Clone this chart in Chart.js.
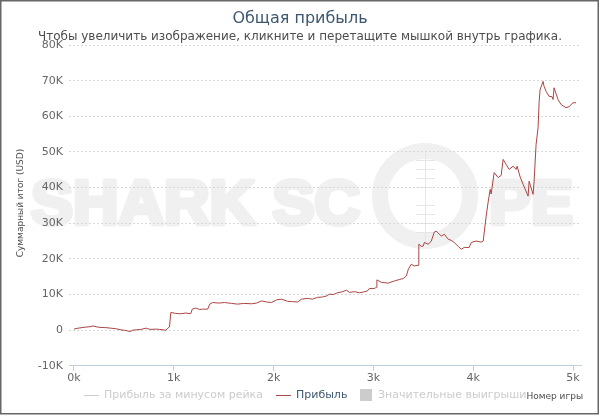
<!DOCTYPE html>
<html lang="ru">
<head>
  <meta charset="UTF-8">
  <title>Общая прибыль</title>
  <script src="https://cdn.jsdelivr.net/npm/chart.js"></script>
  <style>
    body { margin: 0; background: #fff; }
    canvas { display: block; }
  </style>
</head>
<body>
  <canvas id="grafico" width="600" height="417"></canvas>

  <script>
    // номер игры
    const games = [
      0, 30, 100, 170, 190, 230, 270, 320, 370, 420, 470, 520, 560, 590, 630, 670, 720, 750, 770, 820, 860, 920, 940, 957,
      970, 1020, 1070, 1120, 1170, 1185, 1220, 1260, 1290, 1340, 1360, 1390, 1450, 1510, 1580, 1640, 1700, 1780, 1830,
      1880, 1930, 1980, 2030, 2080, 2140, 2190, 2240, 2280, 2340, 2390, 2440, 2490, 2530, 2560, 2600, 2640, 2680, 2730,
      2760, 2810, 2860, 2900, 2940, 2960, 3010, 3030, 3035, 3080, 3150, 3210, 3260, 3300, 3330, 3350, 3380, 3410, 3450,
      3455, 3480, 3500, 3510, 3550, 3580, 3610, 3630, 3650, 3680, 3710, 3750, 3780, 3810, 3850, 3880, 3910, 3960, 3980,
      4030, 4080, 4100, 4130, 4150, 4170, 4180, 4210, 4250, 4280, 4300, 4330, 4360, 4400, 4430, 4440, 4470, 4500, 4550,
      4560, 4600, 4610, 4630, 4650, 4660, 4670, 4700, 4710, 4730, 4760, 4790, 4800, 4810, 4850, 4880, 4930, 4960, 5000, 5030
    ];
    // суммарный итог, USD
    const profit = [
      300, 500, 800, 1000, 1200, 900, 750, 700, 560, 400, 100, -100, -400, 0, 100, 200, 560, 300, 200, 300, 200, 0, 560, 900,
      4950, 4700, 4600, 4800, 4600, 5900, 6200, 5800, 5900, 5900, 7300, 7750, 7600, 7750, 7500, 7300, 7500, 7400, 7600,
      8200, 7900, 7750, 8500, 8700, 8100, 8000, 7900, 8700, 8900, 8700, 9200, 9300, 9600, 10100, 10000, 10500, 10700, 11200,
      10600, 10800, 10500, 10700, 11000, 11700, 11700, 12000, 14100, 13400, 13200, 13800, 14200, 14500, 15200, 17100, 18500, 18000, 18200,
      24100, 23500, 23600, 24600, 24100, 25000, 27500, 27800, 27200, 26400, 26900, 25500, 25200, 24600, 23500, 22700, 23200, 23200, 24600,
      25000, 24700, 25000, 32000, 36000, 39500, 38200, 44200, 42800, 43400, 47900, 46500, 45100, 46000, 45100, 46000, 43000, 40900, 37600,
      41800, 38100, 41700, 52100, 56800, 63800, 67500, 69800, 68400, 67000, 65600, 65500, 64700, 68000, 64700, 63300, 62400, 62700, 63800, 63800
    ];
    const xTicks = [0, 1000, 2000, 3000, 4000, 5000];
    const yTicks = [-10000, 0, 10000, 20000, 30000, 40000, 50000, 60000, 70000, 80000];

    const FONT = '"DejaVu Sans", Verdana, sans-serif';

    // заголовки, водяной знак, легенда, рамка
    const decor = {
      id: 'decor',
      beforeDraw(chart) {
        const ctx = chart.ctx;
        ctx.save();
        ctx.fillStyle = '#fff';
        ctx.fillRect(0, 0, chart.width, chart.height);

        // водяной знак SHARK SCOPE
        ctx.fillStyle = '#f0f0f0';
        ctx.strokeStyle = '#f0f0f0';
        ctx.lineWidth = 5;
        ctx.lineJoin = 'round';
        ctx.font = 'bold 63px "Liberation Sans", Arial, sans-serif';
        ctx.textBaseline = 'alphabetic';
        ctx.textAlign = 'left';
        ctx.fillText('SHARK SC', 31, 224);
        ctx.strokeText('SHARK SC', 31, 224);
        ctx.fillText('PE', 489, 224);
        ctx.strokeText('PE', 489, 224);
        ctx.lineWidth = 16;
        ctx.beginPath();
        ctx.arc(425, 196, 45, 0, Math.PI * 2);
        ctx.stroke();
        ctx.strokeStyle = '#e6e6e6';
        ctx.lineWidth = 1;
        ctx.beginPath();
        ctx.moveTo(425.5, 150);
        ctx.lineTo(425.5, 242);
        for (let k = -4; k <= 4; k++) {
          if (k === 0) continue;
          ctx.moveTo(416, 196.5 + k * 9);
          ctx.lineTo(435, 196.5 + k * 9);
        }
        ctx.stroke();
        ctx.restore();
      },
      afterDraw(chart) {
        const ctx = chart.ctx;
        ctx.save();
        ctx.textBaseline = 'middle';

        ctx.textAlign = 'center';
        ctx.fillStyle = '#3E576F';
        ctx.font = '16px ' + FONT;
        ctx.fillText('Общая прибыль', 300, 19);
        ctx.fillStyle = '#4d4d4d';
        ctx.font = '12px ' + FONT;
        ctx.fillText('Чтобы увеличить изображение, кликните и перетащите мышкой внутрь графика.', 300, 37);

        // подпись оси Y
        ctx.save();
        ctx.translate(21, 203);
        ctx.rotate(-Math.PI / 2);
        ctx.font = '9px ' + FONT;
        ctx.fillStyle = '#4d4d4d';
        ctx.fillText('Суммарный итог (USD)', 0, 0);
        ctx.restore();

        // легенда
        const ly = 395;
        ctx.textAlign = 'left';
        ctx.font = '11px ' + FONT;
        ctx.lineWidth = 1;
        ctx.strokeStyle = '#cccccc';
        ctx.beginPath(); ctx.moveTo(84, ly + 0.5); ctx.lineTo(99, ly + 0.5); ctx.stroke();
        ctx.fillStyle = '#cccccc';
        ctx.fillText('Прибыль за минусом рейка', 104, ly);

        ctx.strokeStyle = '#AA4643';
        ctx.beginPath(); ctx.moveTo(276, ly + 0.5); ctx.lineTo(291, ly + 0.5); ctx.stroke();
        ctx.fillStyle = '#3E576F';
        ctx.fillText('Прибыль', 296, ly);

        ctx.fillStyle = '#cccccc';
        ctx.fillRect(360, ly - 6, 12, 12);
        ctx.fillText('Значительные выигрыши', 378, ly);

        // подпись оси X
        ctx.textAlign = 'right';
        ctx.font = '9px ' + FONT;
        ctx.fillStyle = '#4d4d4d';
        ctx.fillText('Номер игры', 583, 397);

        // рамка
        ctx.strokeStyle = '#666';
        ctx.lineWidth = 1.5;
        ctx.strokeRect(0.75, 0.75, 597.5, 413);
        ctx.restore();
      }
    };

    const ctx = document.getElementById('grafico').getContext('2d');
    new Chart(ctx, {
      type: 'line',
      data: {
        datasets: [{
          label: 'Прибыль',
          data: games.map((g, i) => ({ x: g, y: profit[i] })),
          borderColor: '#AA4643',
          borderWidth: 1,
          pointRadius: 0,
          tension: 0,
          fill: false
        }]
      },
      options: {
        responsive: false,
        animation: false,
        layout: { padding: { top: 45, left: 9, right: 19, bottom: 31 } },
        plugins: {
          legend: { display: false },
          tooltip: { enabled: false }
        },
        scales: {
          x: {
            type: 'linear',
            min: -50,
            max: 5080,
            afterBuildTicks: (scale) => { scale.ticks = xTicks.map(v => ({ value: v })); },
            grid: { drawOnChartArea: false, drawTicks: true, tickLength: 5, color: '#C0D0E0' },
            border: { display: true, color: '#C0D0E0' },
            ticks: {
              padding: 1,
              maxRotation: 0,
              color: '#666',
              font: { family: FONT, size: 11 },
              callback: (v) => (v / 1000) + 'k'
            }
          },
          y: {
            min: -10000,
            max: 80000,
            afterBuildTicks: (scale) => { scale.ticks = yTicks.map(v => ({ value: v })); },
            afterFit: (scale) => { scale.width = 60; },
            grid: { drawTicks: false, color: '#d8d8d8' },
            border: { display: false, dash: [2, 2] },
            ticks: {
              padding: 6,
              color: '#666',
              font: { family: FONT, size: 11 },
              callback: (v) => v === 0 ? '0' : (v / 1000) + 'K'
            }
          }
        }
      },
      plugins: [decor]
    });
  </script>
</body>
</html>
